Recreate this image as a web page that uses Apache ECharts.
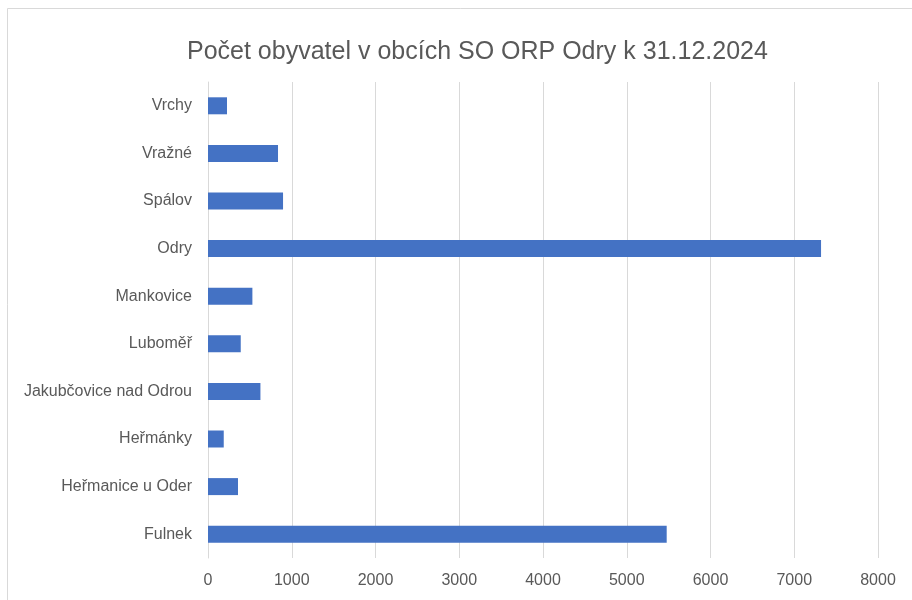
<!DOCTYPE html>
<html><head><meta charset="utf-8">
<script src="https://cdn.jsdelivr.net/npm/echarts@6/dist/echarts.min.js"></script>
<style>html,body{margin:0;padding:0;background:#fff}#c{width:912px;height:600px}</style>
</head><body><div id="c"></div>
<script>
const categories = ["Fulnek","Heřmanice u Oder","Heřmánky","Jakubčovice nad Odrou","Luboměř","Mankovice","Odry","Spálov","Vražné","Vrchy"];
const values = [5477,358,188,626,391,530,7320,896,836,227];
const xTicks = [0,1000,2000,3000,4000,5000,6000,7000,8000];
const titleText = "Počet obyvatel v obcích SO ORP Odry k 31.12.2024";

const chart = echarts.init(document.getElementById('c'), null, {renderer:'canvas'});
const font = "Liberation Sans";
chart.setOption({
  backgroundColor:'#fff',
  animation:false,
  graphic:[{type:'rect',shape:{x:7.5,y:8.5,width:920,height:620},style:{fill:'none',stroke:'#d9d9d9',lineWidth:1},silent:true}],
  title:{text:titleText,left:182,top:35,textStyle:{fontFamily:font,fontSize:25,fontWeight:'normal',color:'#595959'}},
  grid:{left:208,right:34,top:82,bottom:42,containLabel:false},
  xAxis:{type:'value',min:xTicks[0],max:xTicks[xTicks.length-1],interval:1000,
    axisLine:{show:false},axisTick:{show:false},
    splitLine:{lineStyle:{color:'#d9d9d9',width:1}},
    axisLabel:{color:'#595959',fontFamily:font,fontSize:16,margin:15,formatter:v=>String(v)}},
  yAxis:{type:'category',data:categories,
    axisLine:{show:true,lineStyle:{color:'#d9d9d9'}},axisTick:{show:false},
    axisLabel:{color:'#595959',fontFamily:font,fontSize:16,margin:16}},
  series:[{type:'bar',data:values,barWidth:17,itemStyle:{color:'#4472c4'}}]
});
</script></body></html>
